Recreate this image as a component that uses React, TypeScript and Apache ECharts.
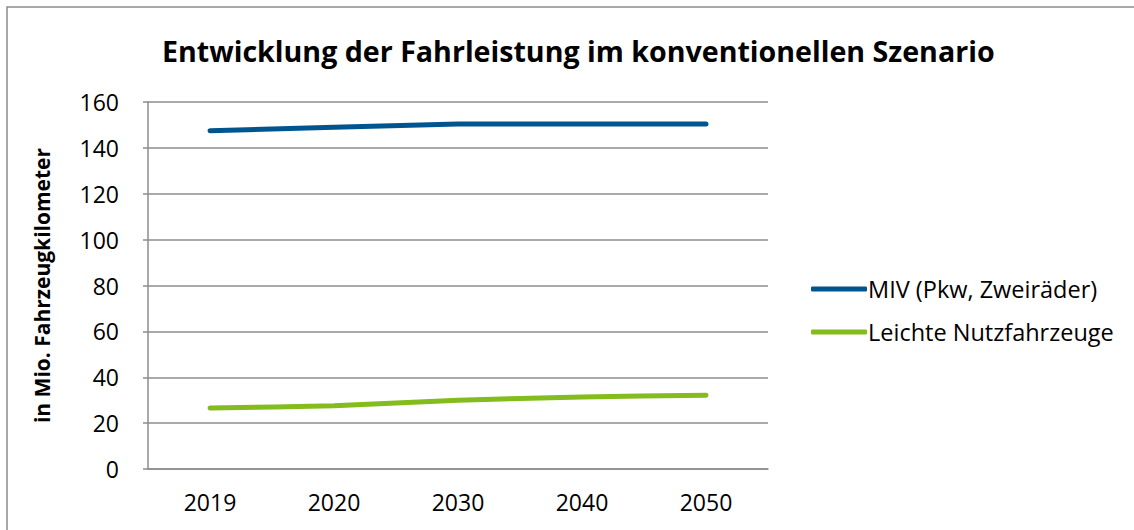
import React, { useEffect, useRef } from "react";
import * as echarts from "echarts";

const title = "Entwicklung der Fahrleistung im konventionellen Szenario";
const yAxisName = "in Mio. Fahrzeugkilometer";
const years = ["2019", "2020", "2030", "2040", "2050"];
const seriesNames = ["MIV (Pkw, Zweiräder)", "Leichte Nutzfahrzeuge"];
const miv = [147.5, 149, 150.4, 150.4, 150.4];
const lnf = [26.6, 27.6, 30, 31.4, 32.2];
const colors = ["#00558f", "#84bb1d"];
const FONT = "Open Sans";

export default function App() {
  const ref = useRef<HTMLDivElement>(null);
  useEffect(() => {
    const chart = echarts.init(ref.current!, null, { renderer: "svg" });
    chart.setOption({
      animation: false,
      backgroundColor: "#fff",
      textStyle: { fontFamily: FONT },
      title: {
        text: title,
        left: 157,
        top: 31,
        textStyle: { fontSize: 28.6, fontWeight: "bold", color: "#000", fontFamily: FONT },
      },
      graphic: [
        {
          type: "rect",
          shape: { x: 7, y: 7, width: 1140, height: 540 },
          style: { fill: "none", stroke: "#8c8c8c", lineWidth: 1.5 },
          silent: true,
        },
      ],
      legend: {
        orient: "vertical",
        left: 806,
        top: 272,
        itemGap: 19,
        itemWidth: 56,
        itemHeight: 5,
        icon: "roundRect",
        textStyle: { fontSize: 23.5, color: "#000", fontFamily: FONT, padding: [0, 0, 0, -4] },
        data: seriesNames,
      },
      grid: { left: 148, top: 102, right: 366, bottom: 61 },
      xAxis: {
        type: "category",
        data: years,
        boundaryGap: true,
        axisLine: { lineStyle: { color: "#8c8c8c", width: 1.5 } },
        axisTick: { show: false },
        axisLabel: { fontSize: 23, color: "#000", margin: 21, fontFamily: FONT },
      },
      yAxis: {
        type: "value",
        min: 0,
        max: 160,
        interval: 20,
        name: yAxisName,
        nameLocation: "middle",
        nameGap: 96,
        nameTextStyle: { fontSize: 21, fontWeight: "bold", color: "#000", fontFamily: FONT },
        axisLine: { show: true, lineStyle: { color: "#8c8c8c", width: 1.5 } },
        axisTick: { show: true, length: 5, lineStyle: { color: "#8c8c8c", width: 1.5 } },
        splitLine: { lineStyle: { color: "#8c8c8c", width: 1.5 } },
        axisLabel: { fontSize: 23, color: "#000", margin: 29, fontFamily: FONT },
      },
      series: [
        {
          name: seriesNames[0],
          type: "line",
          data: miv,
          showSymbol: false,
          symbol: "none",
          lineStyle: { color: colors[0], width: 5, cap: "round" },
          itemStyle: { color: colors[0] },
        },
        {
          name: seriesNames[1],
          type: "line",
          data: lnf,
          showSymbol: false,
          symbol: "none",
          smooth: 0.2,
          lineStyle: { color: colors[1], width: 5, cap: "round" },
          itemStyle: { color: colors[1] },
        },
      ],
    });
    return () => chart.dispose();
  }, []);
  return (
    <div
      ref={ref}
      style={{ position: "absolute", left: 0, top: 0, width: 1134, height: 530 }}
    />
  );
}
